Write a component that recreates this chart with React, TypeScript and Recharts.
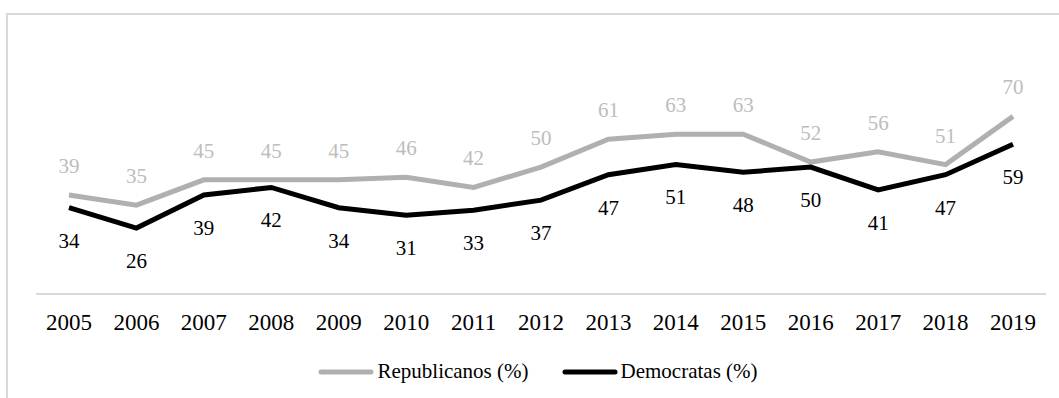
import { LineChart, Line, XAxis, YAxis, LabelList, Legend } from "recharts";

const years = ["2005", "2006", "2007", "2008", "2009", "2010", "2011", "2012", "2013", "2014", "2015", "2016", "2017", "2018", "2019"];
const republicanos = [39, 35, 45, 45, 45, 46, 42, 50, 61, 63, 63, 52, 56, 51, 70];
const democratas = [34, 26, 39, 42, 34, 31, 33, 37, 47, 51, 48, 50, 41, 47, 59];
const seriesOrder = ["Republicanos (%)", "Democratas (%)"];

const data = years.map((year, i) => ({
  year,
  rep: republicanos[i],
  dem: democratas[i],
}));

const FONT = '"Liberation Serif", "Times New Roman", serif';
const GRAY_LINE = "#b0b0b0";
const GRAY_TEXT = "#bdbdbd";

// eslint-disable-next-line @typescript-eslint/no-explicit-any
function LegendContent({ payload }: any) {
  const items = [...(payload || [])].sort(
    (a: any, b: any) => seriesOrder.indexOf(a.value) - seriesOrder.indexOf(b.value)
  );
  return (
    <div style={{ display: "flex", justifyContent: "center", fontFamily: FONT, fontSize: 21, color: "#000" }}>
      {items.map((entry: any, i: number) => (
        <span key={entry.value} style={{ display: "inline-flex", alignItems: "center", marginRight: i === 0 ? 33 : 0 }}>
          <svg width={56} height={8} style={{ marginRight: 3 }}>
            <line x1={3} y1={4} x2={53} y2={4} stroke={entry.color} strokeWidth={5} strokeLinecap="round" />
          </svg>
          <span>{entry.value}</span>
        </span>
      ))}
    </div>
  );
}

export default function App() {
  return (
    <div style={{ position: "absolute", left: 0, top: 0, width: 1059, height: 398, background: "#fff", overflow: "hidden" }}>
      <div
        style={{
          position: "absolute",
          left: 6,
          top: 13,
          width: 1051,
          height: 383,
          borderLeft: "2px solid #d9d9d9",
          borderTop: "2px solid #d9d9d9",
        }}
      />
      <LineChart
        width={1059}
        height={398}
        data={data}
        margin={{ top: 91, right: 13, bottom: 74, left: 36 }}
        style={{ position: "absolute", left: 0, top: 0, fontFamily: FONT }}
      >
        <XAxis
          dataKey="year"
          padding={{ left: 33, right: 33 }}
          axisLine={{ stroke: "#d9d9d9", strokeWidth: 2 }}
          tickLine={false}
          tickMargin={14}
          tick={{ fill: "#000", fontSize: 23, fontFamily: FONT }}
          interval={0}
        />
        <YAxis hide domain={[0, 80]} />
        <Legend
          layout="horizontal"
          verticalAlign="middle"
          align="center"
          content={<LegendContent />}
          wrapperStyle={{ top: 359, left: 17, width: 1042 }}
        />
        <Line
          type="linear"
          dataKey="rep"
          name="Republicanos (%)"
          stroke={GRAY_LINE}
          strokeWidth={5}
          dot={false}
          isAnimationActive={false}
        >
          <LabelList dataKey="rep" position="top" offset={22} fill={GRAY_TEXT} fontSize={21} fontFamily={FONT} />
        </Line>
        <Line
          type="linear"
          dataKey="dem"
          name="Democratas (%)"
          stroke="#000"
          strokeWidth={5}
          dot={false}
          isAnimationActive={false}
        >
          <LabelList dataKey="dem" position="bottom" offset={25} fill="#000" fontSize={21} fontFamily={FONT} />
        </Line>
      </LineChart>
    </div>
  );
}
